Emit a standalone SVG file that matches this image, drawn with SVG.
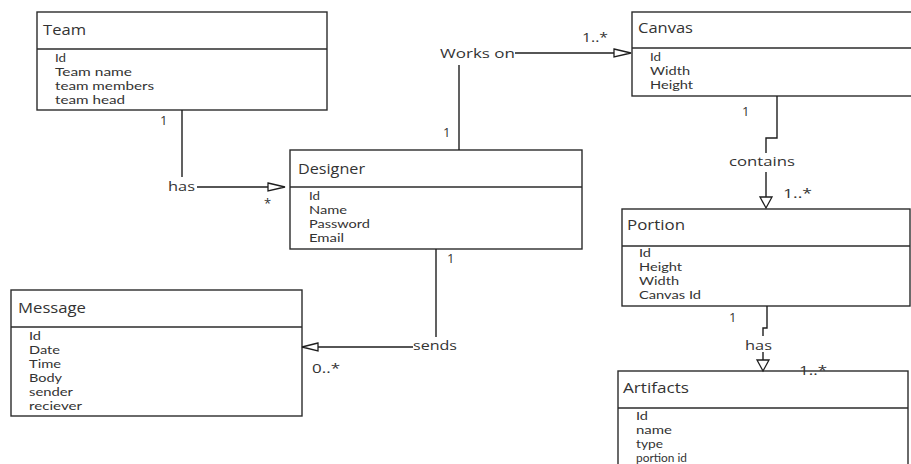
<svg xmlns="http://www.w3.org/2000/svg" width="911" height="464" viewBox="0 0 911 464">
  <style>
    .box { fill: #ffffff; stroke: #2b2b2b; stroke-width: 1.4; }
    .div { stroke: #2b2b2b; stroke-width: 1.3; }
    .title { font-family: "Open Sans", "Noto Sans", sans-serif; font-size: 14px; fill: #333333; }
    .attr { font-family: Lato, "Open Sans", sans-serif; font-size: 11.5px; fill: #333333; }
    .lbl { font-family: "Open Sans", "Noto Sans", sans-serif; font-size: 13px; fill: #333333; }
    .mult { font-family: "Open Sans", "Noto Sans", sans-serif; font-size: 13px; fill: #333333; }
    .wire { fill: none; stroke: #1e1e1e; stroke-width: 1.4; }
    .head { fill: #ffffff; stroke: #1e1e1e; stroke-width: 1.3; }
  </style>
  <rect width="911" height="464" fill="#ffffff"/>

  <!-- Team -->
  <g id="team">
    <rect class="box" x="37" y="12" width="290" height="98"/>
    <line class="div" x1="37" y1="49" x2="327" y2="49"/>
    <text class="title" x="43" y="35" textLength="43" lengthAdjust="spacingAndGlyphs">Team</text>
    <text class="attr" x="55" y="62" textLength="11" lengthAdjust="spacingAndGlyphs">Id</text>
    <text class="attr" x="55" y="76" textLength="77" lengthAdjust="spacingAndGlyphs">Team name</text>
    <text class="attr" x="55" y="90" textLength="99" lengthAdjust="spacingAndGlyphs">team members</text>
    <text class="attr" x="55" y="104" textLength="70" lengthAdjust="spacingAndGlyphs">team head</text>
  </g>

  <!-- Designer -->
  <g id="designer">
    <rect class="box" x="290" y="150" width="292" height="99"/>
    <line class="div" x1="290" y1="187" x2="582" y2="187"/>
    <text class="title" x="298" y="174" textLength="67" lengthAdjust="spacingAndGlyphs">Designer</text>
    <text class="attr" x="309" y="200" textLength="11" lengthAdjust="spacingAndGlyphs">Id</text>
    <text class="attr" x="309" y="214" textLength="38" lengthAdjust="spacingAndGlyphs">Name</text>
    <text class="attr" x="309" y="228" textLength="61" lengthAdjust="spacingAndGlyphs">Password</text>
    <text class="attr" x="309" y="242" textLength="35" lengthAdjust="spacingAndGlyphs">Email</text>
  </g>

  <!-- Canvas -->
  <g id="canvas">
    <rect class="box" x="632" y="12" width="300" height="84"/>
    <line class="div" x1="632" y1="48" x2="932" y2="48"/>
    <text class="title" x="638" y="33" textLength="55" lengthAdjust="spacingAndGlyphs">Canvas</text>
    <text class="attr" x="650" y="61" textLength="11" lengthAdjust="spacingAndGlyphs">Id</text>
    <text class="attr" x="650" y="75" textLength="40" lengthAdjust="spacingAndGlyphs">Width</text>
    <text class="attr" x="650" y="89" textLength="43" lengthAdjust="spacingAndGlyphs">Height</text>
  </g>

  <!-- Portion -->
  <g id="portion">
    <rect class="box" x="622" y="209" width="288" height="97"/>
    <line class="div" x1="622" y1="246" x2="910" y2="246"/>
    <text class="title" x="627" y="230" textLength="58" lengthAdjust="spacingAndGlyphs">Portion</text>
    <text class="attr" x="639" y="257" textLength="12" lengthAdjust="spacingAndGlyphs">Id</text>
    <text class="attr" x="639" y="271" textLength="43" lengthAdjust="spacingAndGlyphs">Height</text>
    <text class="attr" x="639" y="285" textLength="40" lengthAdjust="spacingAndGlyphs">Width</text>
    <text class="attr" x="639" y="299" textLength="62" lengthAdjust="spacingAndGlyphs">Canvas Id</text>
  </g>

  <!-- Artifacts -->
  <g id="artifacts">
    <rect class="box" x="618" y="371" width="290" height="110"/>
    <line class="div" x1="618" y1="408" x2="908" y2="408"/>
    <text class="title" x="623" y="393" textLength="66" lengthAdjust="spacingAndGlyphs">Artifacts</text>
    <text class="attr" x="636" y="420" textLength="12" lengthAdjust="spacingAndGlyphs">Id</text>
    <text class="attr" x="636" y="434" textLength="36" lengthAdjust="spacingAndGlyphs">name</text>
    <text class="attr" x="636" y="448" textLength="27" lengthAdjust="spacingAndGlyphs">type</text>
    <text class="attr" x="636" y="462" textLength="51" lengthAdjust="spacingAndGlyphs">portion id</text>
  </g>

  <!-- Message -->
  <g id="message">
    <rect class="box" x="11" y="290" width="291" height="126"/>
    <line class="div" x1="11" y1="327" x2="302" y2="327"/>
    <text class="title" x="18" y="313" textLength="68" lengthAdjust="spacingAndGlyphs">Message</text>
    <text class="attr" x="29" y="340" textLength="12" lengthAdjust="spacingAndGlyphs">Id</text>
    <text class="attr" x="29" y="354" textLength="31" lengthAdjust="spacingAndGlyphs">Date</text>
    <text class="attr" x="29" y="368" textLength="32" lengthAdjust="spacingAndGlyphs">Time</text>
    <text class="attr" x="29" y="382" textLength="33" lengthAdjust="spacingAndGlyphs">Body</text>
    <text class="attr" x="29" y="396" textLength="44" lengthAdjust="spacingAndGlyphs">sender</text>
    <text class="attr" x="29" y="410" textLength="53" lengthAdjust="spacingAndGlyphs">reciever</text>
  </g>

  <!-- Associations -->
  <g id="connectors">
    <!-- Team has Designer -->
    <path class="wire" d="M182,110 V177"/>
    <path class="wire" d="M197,187 H268"/>
    <polygon class="head" points="268,183 285,187 268,191"/>
    <text class="lbl" x="168" y="191" textLength="27" lengthAdjust="spacingAndGlyphs">has</text>
    <text class="mult" x="160" y="125">1</text>
    <text class="mult" x="264" y="208">*</text>

    <!-- Designer works on Canvas -->
    <path class="wire" d="M459,150 V65"/>
    <path class="wire" d="M515,53 H614"/>
    <polygon class="head" points="614,49 631,53 614,57"/>
    <text class="lbl" x="440" y="58" textLength="75" lengthAdjust="spacingAndGlyphs">Works on</text>
    <text class="mult" x="443" y="137">1</text>
    <text class="mult" x="582" y="42" textLength="26" lengthAdjust="spacingAndGlyphs">1..*</text>

    <!-- Canvas contains Portion -->
    <path class="wire" d="M777,96 V138 H766 V153"/>
    <path class="wire" d="M766,172 V197"/>
    <polygon class="head" points="760,197 772,197 766,208"/>
    <text class="lbl" x="729" y="166" textLength="66" lengthAdjust="spacingAndGlyphs">contains</text>
    <text class="mult" x="742" y="116">1</text>
    <text class="mult" x="783" y="198" textLength="29" lengthAdjust="spacingAndGlyphs">1..*</text>

    <!-- Portion has Artifacts -->
    <path class="wire" d="M767,306 V328 H763 V336"/>
    <path class="wire" d="M763,352 V360"/>
    <polygon class="head" points="757,360 769,360 763,371"/>
    <text class="lbl" x="745" y="350" textLength="27" lengthAdjust="spacingAndGlyphs">has</text>
    <text class="mult" x="729" y="322">1</text>
    <text class="mult" x="799" y="375" textLength="28" lengthAdjust="spacingAndGlyphs">1..*</text>

    <!-- Designer sends Message -->
    <path class="wire" d="M436,249 V337"/>
    <path class="wire" d="M413,347 H318"/>
    <polygon class="head" points="318,343 302,347 318,351"/>
    <text class="lbl" x="413" y="350" textLength="44" lengthAdjust="spacingAndGlyphs">sends</text>
    <text class="mult" x="447" y="263">1</text>
    <text class="mult" x="312" y="373" textLength="28" lengthAdjust="spacingAndGlyphs">0..*</text>
  </g>
</svg>
